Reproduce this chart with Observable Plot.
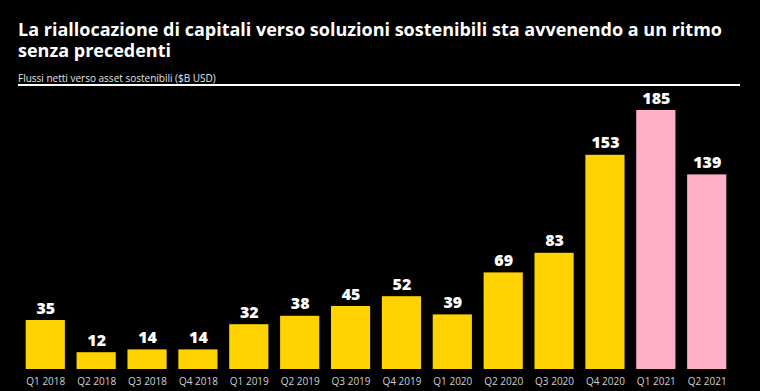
<!DOCTYPE html>
<html>
<head>
<meta charset="utf-8">
<script src="https://cdn.jsdelivr.net/npm/d3@7"></script>
<script src="https://cdn.jsdelivr.net/npm/@observablehq/plot@0.6"></script>
<style>
  html, body { margin: 0; padding: 0; background: #000; }
  body { width: 760px; height: 391px; overflow: hidden; position: relative; font-family: "Open Sans", "DejaVu Sans", sans-serif; }
  #title { position: absolute; left: 18px; top: 19px; width: 730px; color: #fff; font-size: 18px; font-weight: 700; line-height: 21px; }
  #subtitle { position: absolute; left: 18px; top: 71px; color: #e6e6e6; font-size: 10px; }
  #rule { position: absolute; left: 18px; top: 84px; width: 722px; height: 2px; background: #fff; }
  #chart { position: absolute; left: 0; top: 88px; }
</style>
</head>
<body>
<div id="title">La riallocazione di capitali verso soluzioni sostenibili sta avvenendo a un ritmo senza precedenti</div>
<div id="subtitle">Flussi netti verso asset sostenibili ($B USD)</div>
<div id="rule"></div>
<div id="chart"></div>
<script>
const quarters = ["Q1 2018","Q2 2018","Q3 2018","Q4 2018","Q1 2019","Q2 2019","Q3 2019","Q4 2019","Q1 2020","Q2 2020","Q3 2020","Q4 2020","Q1 2021","Q2 2021"];
const flows = [35, 12, 14, 14, 32, 38, 45, 52, 39, 69, 83, 153, 185, 139];
const groups = ["past","past","past","past","past","past","past","past","past","past","past","past","2021","2021"];

const data = quarters.map((q, i) => ({quarter: q, value: flows[i], group: groups[i]}));

const chart = Plot.plot({
  width: 760,
  height: 303,
  marginLeft: 14,
  marginRight: 22,
  marginTop: 22,
  marginBottom: 22,
  style: {background: "#000", color: "#fff", fontFamily: "Open Sans, sans-serif"},
  x: {domain: quarters, padding: 0.23, round: false, label: null},
  y: {domain: [0, 185], axis: null},
  color: {domain: ["past", "2021"], range: ["#FFD200", "#FFB0C6"]},
  marks: [
    Plot.barY(data, {x: "quarter", y: "value", fill: "group"}),
    Plot.text(data, {x: "quarter", y: "value", text: d => String(d.value), lineAnchor: "bottom", dy: -7, fill: "#fff", fontSize: 16, fontWeight: 800}),
    Plot.axisX({tickSize: 0, tickPadding: 8, fontSize: 10, color: "#d0d0d0", label: null})
  ]
});
document.getElementById("chart").appendChild(chart);
</script>
</body>
</html>
